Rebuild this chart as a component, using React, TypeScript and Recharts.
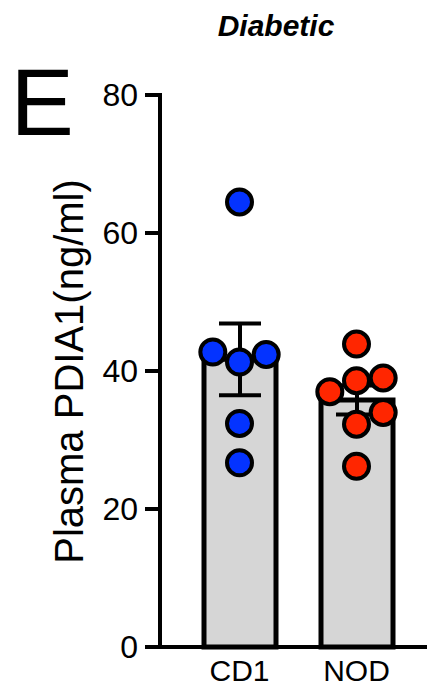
import React from 'react';
import { ComposedChart, Bar, Scatter, XAxis, YAxis, ErrorBar } from 'recharts';

// ---- data ----
const groups = ['CD1', 'NOD'];
const groupMeans = [41.7, 35.8];
const groupSem = [5.2, 2.1];
const yTicks = [0, 20, 40, 60, 80];

// individual animals: horizontal jitter (in group units) and value
const cd1Offsets = [0, -0.228, 0.228, 0, 0, 0];
const cd1Values = [64.5, 42.75, 42.4, 41.3, 32.4, 26.7];
const nodOffsets = [0, 0, 0.228, -0.228, 0.228, 0, 0];
const nodValues = [43.9, 38.6, 39.0, 37.0, 34.0, 32.3, 26.2];

const title = 'Diabetic';
const panelLetter = 'E';
const yLabel = 'Plasma PDIA1(ng/ml)';

const FONT = '"Liberation Sans", Arial, Helvetica, sans-serif';

const barData = groups.map((g, i) => ({ group: g, mean: groupMeans[i], sem: groupSem[i] }));
const cd1Points = cd1Values.map((v, i) => ({ x: 0 + cd1Offsets[i], y: v }));
const nodPoints = nodValues.map((v, i) => ({ x: 1 + nodOffsets[i], y: v }));

const makeDot = (fill: string) => (props: any) => (
  <circle cx={props.cx} cy={props.cy} r={12.5} fill={fill} stroke="#000" strokeWidth={4} />
);

export default function App() {
  return (
    <div style={{ position: 'absolute', left: 0, top: 0, width: 428, height: 688, background: '#fff' }}>
      <ComposedChart
        width={428}
        height={688}
        data={barData}
        margin={{ top: 95, right: 3, bottom: 0, left: 0 }}
      >
        <XAxis
          xAxisId="cat"
          dataKey="group"
          type="category"
          padding={{ left: 21, right: 10 }}
          height={41}
          axisLine={{ stroke: '#000', strokeWidth: 4, strokeLinecap: 'square' }}
          tickLine={false}
          tickSize={6}
          tickMargin={7}
          interval={0}
          tick={{ fill: '#000', fontSize: 30, fontFamily: FONT }}
        />
        <XAxis
          xAxisId="num"
          dataKey="x"
          type="number"
          domain={[-0.5, 1.5]}
          padding={{ left: 21, right: 10 }}
          allowDataOverflow
          hide
        />
        <YAxis
          domain={[0, 80]}
          ticks={yTicks}
          width={160}
          interval={0}
          axisLine={{ stroke: '#000', strokeWidth: 4, strokeLinecap: 'square' }}
          tickLine={{ stroke: '#000', strokeWidth: 4 }}
          tickSize={15}
          tickMargin={7}
          tick={{ fill: '#000', fontSize: 32, fontFamily: FONT }}
        />
        <Bar
          xAxisId="cat"
          dataKey="mean"
          barSize={72}
          fill="#D6D6D6"
          stroke="#000"
          strokeWidth={5}
          isAnimationActive={false}
        >
          <ErrorBar dataKey="sem" width={21} stroke="#000" strokeWidth={4} direction="y" />
        </Bar>
        <Scatter
          xAxisId="num"
          data={cd1Points}
          dataKey="y"
          shape={makeDot('#0433FF')}
          isAnimationActive={false}
        />
        <Scatter
          xAxisId="num"
          data={nodPoints}
          dataKey="y"
          shape={makeDot('#FF2600')}
          isAnimationActive={false}
        />
      </ComposedChart>
      <svg
        width={428}
        height={688}
        style={{ position: 'absolute', left: 0, top: 0, pointerEvents: 'none' }}
      >
        <text x={276} y={36} textAnchor="middle" fontFamily={FONT} fontSize={30} fontWeight="bold" fontStyle="italic" fill="#000">
          {title}
        </text>
        <text x={10.5} y={135} fontFamily={FONT} fontSize={95} fill="#000">
          {panelLetter}
        </text>
        <text
          x={83}
          y={371.5}
          transform="rotate(-90 83 371.5)"
          textAnchor="middle"
          fontFamily={FONT}
          fontSize={40}
          fill="#000"
        >
          {yLabel}
        </text>
      </svg>
    </div>
  );
}
